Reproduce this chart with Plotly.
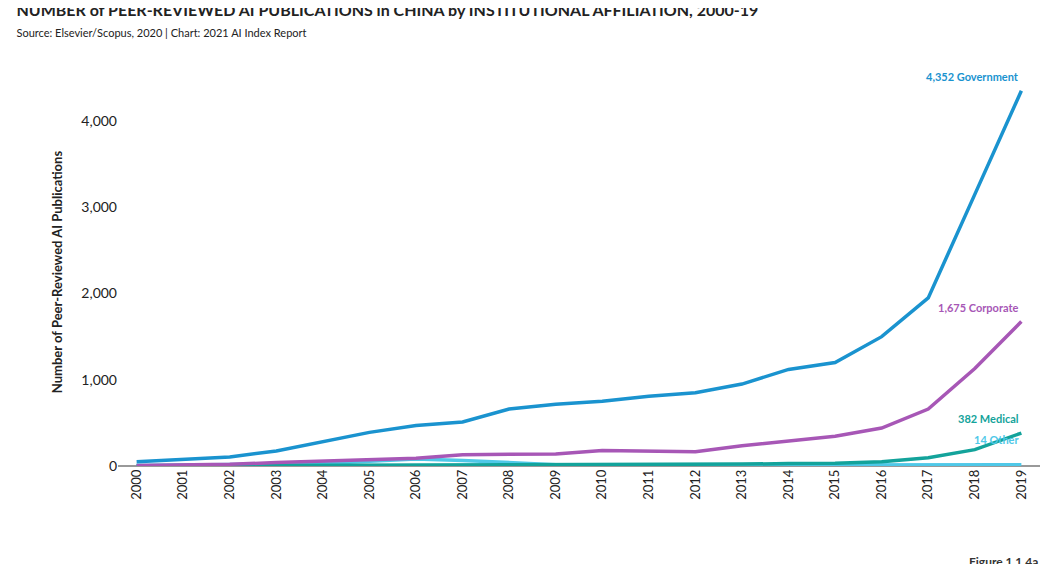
import plotly.graph_objects as go

years = [str(y) for y in range(2000, 2020)]
government = [50, 80, 105, 175, 280, 390, 470, 510, 660, 715, 750, 810, 850, 950, 1120, 1200, 1500, 1950, 3150, 4352]
corporate = [5, 10, 20, 40, 55, 70, 90, 130, 140, 140, 180, 175, 165, 235, 285, 345, 440, 660, 1130, 1675]
other = [5, 10, 15, 20, 30, 55, 80, 65, 35, 15, 10, 10, 10, 12, 12, 12, 12, 13, 14, 14]
medical = [2, 3, 4, 5, 8, 12, 15, 10, 12, 8, 12, 15, 12, 22, 28, 32, 50, 95, 190, 382]

series = [("Other", other, "#4fc8e8"), ("Medical", medical, "#13a39b"),
          ("Corporate", corporate, "#a757b6"), ("Government", government, "#1a93cf")]

fig = go.Figure()
for name, vals, col in series:
    fig.add_trace(go.Scatter(x=years, y=vals, mode="lines", name=name,
                             line=dict(color=col, width=3.5)))

labels = [("<b>4,352 Government</b>", government, "#1a93cf", 0),
          ("<b>1,675 Corporate</b>", corporate, "#a757b6", 0),
          ("<b>382 Medical</b>", medical, "#13a39b", 0),
          ("<b>14 Other</b>", other, "#4fc8e8", 130)]
for txt, vals, col, dy in labels:
    fig.add_annotation(xref="x", yref="y", x=len(years) - 1, y=vals[-1] + dy, text=txt,
                       showarrow=False, xanchor="right", yanchor="bottom", yshift=6,
                       font=dict(color=col, size=11, family="Lato"))

fig.add_annotation(xref="paper", yref="paper", x=1.0, y=-0.27, text="<b>Figure 1.1.4a</b>",
                   showarrow=False, xanchor="right", font=dict(size=12, color="#333"))

fig.update_layout(
    width=1062, height=564, plot_bgcolor="white", paper_bgcolor="white",
    showlegend=False,
    margin=dict(l=110, r=30, t=70, b=106),
    title=dict(text="<b>NUMBER of PEER-REVIEWED AI PUBLICATIONS in CHINA by INSTITUTIONAL AFFILIATION, 2000-19</b>"
               "<br><span style='font-size:11px'>Source: Elsevier/Scopus, 2020 | Chart: 2021 AI Index Report</span>",
               x=0.008, y=0.985, xanchor="left", yanchor="top",
               font=dict(size=16, family="Lato", color="#222")),
    font=dict(family="Lato", color="#222"),
    xaxis=dict(tickangle=-90, showgrid=False, showline=False, ticks="",
               tickfont=dict(size=13, family="Lato"), range=[-0.4, 19.4]),
    yaxis=dict(title=dict(text="<b>Number of Peer-Reviewed AI Publications</b>", font=dict(size=13)),
               range=[0, 4500], tickvals=[0, 1000, 2000, 3000, 4000], tickformat=",",
               showgrid=False, zeroline=True, zerolinecolor="#999",
               tickfont=dict(size=14)),
)
fig.write_html("out.html")
